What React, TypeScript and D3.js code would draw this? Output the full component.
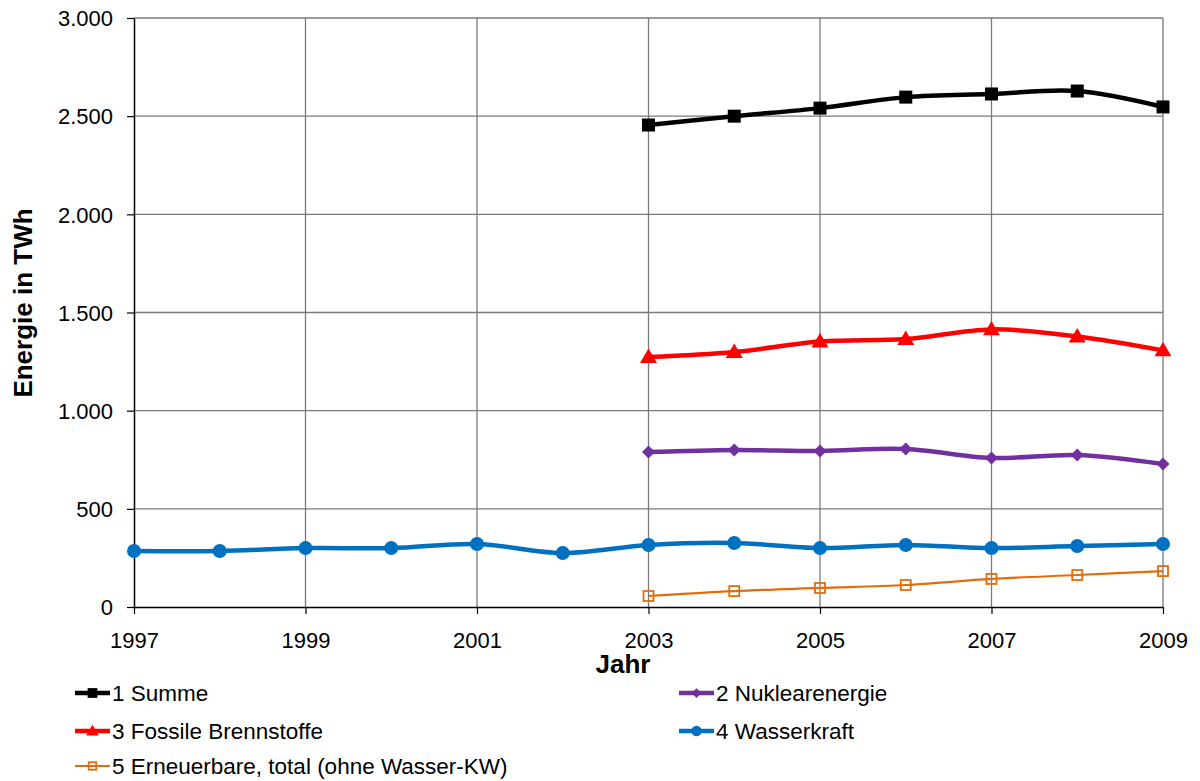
import React from 'react';
import * as d3 from 'd3';

// values (TWh)
const years = [1997, 1998, 1999, 2000, 2001, 2002, 2003, 2004, 2005, 2006, 2007, 2008, 2009];
const summe = [null, null, null, null, null, null, 2455, 2500, 2541, 2597, 2613, 2628, 2547];
const nuklear = [null, null, null, null, null, null, 789, 800, 795, 805, 759, 774, 728];
const fossil = [null, null, null, null, null, null, 1273, 1299, 1352, 1365, 1414, 1378, 1307];
const wasser = [285, 285, 300, 300, 321, 275, 316, 326, 300, 316, 300, 311, 321];
const erneuerbar = [null, null, null, null, null, null, 56, 81, 97, 112, 143, 163, 183];

const xTicks = [1997, 1999, 2001, 2003, 2005, 2007, 2009];
const yTicks = [0, 500, 1000, 1500, 2000, 2500, 3000];

type Marker = 'square' | 'diamond' | 'triangle' | 'circle' | 'openSquare';
interface Series {
  name: string;
  values: (number | null)[];
  color: string;
  width: number;
  marker: Marker;
}

const series: Series[] = [
  { name: '1 Summe', values: summe, color: '#000000', width: 4.5, marker: 'square' },
  { name: '2 Nuklearenergie', values: nuklear, color: '#7030A0', width: 4.5, marker: 'diamond' },
  { name: '3 Fossile Brennstoffe', values: fossil, color: '#FF0000', width: 4.5, marker: 'triangle' },
  { name: '4 Wasserkraft', values: wasser, color: '#0070C0', width: 4.5, marker: 'circle' },
  { name: '5 Erneuerbare, total (ohne Wasser-KW)', values: erneuerbar, color: '#E46C0A', width: 2.2, marker: 'openSquare' },
];

const W = 1200;
const H = 781;
const m = { left: 134, right: 1163, top: 18, bottom: 607 };
const font = '"Liberation Sans", Arial, sans-serif';

const drawMarker = (g: d3.Selection<SVGGElement, unknown, null, undefined>, kind: Marker, cx: number, cy: number, color: string, big = true) => {
  const k = big ? 1 : 0.75;
  if (kind === 'square') {
    const s = 13 * k;
    g.append('rect').attr('x', cx - s / 2).attr('y', cy - s / 2).attr('width', s).attr('height', s).attr('fill', color);
  } else if (kind === 'openSquare') {
    const s = 10 * k;
    g.append('rect').attr('x', cx - s / 2).attr('y', cy - s / 2).attr('width', s).attr('height', s)
      .attr('fill', 'none').attr('stroke', color).attr('stroke-width', 1.8);
  } else if (kind === 'diamond') {
    const r = 6.5 * k;
    g.append('path').attr('d', `M${cx},${cy - r}L${cx + r},${cy}L${cx},${cy + r}L${cx - r},${cy}Z`).attr('fill', color);
  } else if (kind === 'triangle') {
    const r = 8.5 * k;
    g.append('path').attr('d', `M${cx},${cy - r}L${cx + r},${cy + r * 0.7}L${cx - r},${cy + r * 0.7}Z`).attr('fill', color);
  } else {
    g.append('circle').attr('cx', cx).attr('cy', cy).attr('r', 7 * k).attr('fill', color);
  }
};

const App: React.FC = () => {
  const ref = React.useRef<SVGSVGElement>(null);

  React.useEffect(() => {
    const svg = d3.select(ref.current);
    svg.selectAll('*').remove();

    const x = d3.scaleLinear().domain([1997, 2009]).range([m.left, m.right]);
    const y = d3.scaleLinear().domain([0, 3000]).range([m.bottom, m.top]);

    // grid
    const grid = svg.append('g');
    yTicks.filter(t => t > 0).forEach(t => {
      grid.append('line').attr('x1', m.left).attr('x2', m.right).attr('y1', y(t)).attr('y2', y(t))
        .attr('stroke', '#7a7a7a').attr('stroke-width', 1.3);
    });
    xTicks.filter(t => t > 1997).forEach(t => {
      grid.append('line').attr('x1', x(t)).attr('x2', x(t)).attr('y1', m.top).attr('y2', m.bottom)
        .attr('stroke', '#7a7a7a').attr('stroke-width', 1.3);
    });

    // axes
    const yAxis = d3.axisLeft(y).tickValues(yTicks).tickSize(7).tickSizeOuter(0)
      .tickFormat(d => d3.format(',')(d as number).replace(/,/g, '.'));
    const yg = svg.append('g').attr('transform', `translate(${m.left},0)`).call(yAxis);
    const xAxis = d3.axisBottom(x).tickValues(xTicks).tickSize(7).tickSizeOuter(0).tickFormat(d3.format('d'));
    const xg = svg.append('g').attr('transform', `translate(0,${m.bottom})`).call(xAxis);
    [yg, xg].forEach(a => {
      a.attr('font-size', null).attr('font-family', null);
      a.select('.domain').attr('stroke', '#000').attr('stroke-width', 1.5);
      a.selectAll('.tick line').attr('stroke', '#000').attr('stroke-width', 1.2);
      a.selectAll('.tick text').attr('font-family', font).attr('font-size', 22).attr('fill', '#000');
    });
    yg.selectAll('.tick text').attr('x', -21).attr('dy', '0.35em');
    xg.selectAll('.tick text').attr('y', 25);

    // titles
    svg.append('text').attr('transform', `translate(32,303) rotate(-90)`)
      .attr('text-anchor', 'middle').attr('font-family', font).attr('font-size', 26).attr('font-weight', 'bold')
      .text('Energie in TWh');
    svg.append('text').attr('x', 623).attr('y', 673).attr('text-anchor', 'middle')
      .attr('font-family', font).attr('font-size', 26).attr('font-weight', 'bold').text('Jahr');

    // series
    const line = d3.line<[number, number | null]>()
      .defined(d => d[1] !== null)
      .x(d => x(d[0]))
      .y(d => y(d[1] as number))
      .curve(d3.curveCatmullRom.alpha(0));

    const order = [4, 3, 1, 2, 0];
    order.forEach(i => {
      const s = series[i];
      const pts = years.map((yr, j) => [yr, s.values[j]] as [number, number | null]);
      const g = svg.append('g');
      g.append('path').datum(pts).attr('d', line).attr('fill', 'none').attr('stroke', s.color)
        .attr('stroke-width', s.width).attr('stroke-linejoin', 'round');
      pts.filter(p => p[1] !== null).forEach(p => drawMarker(g, s.marker, x(p[0]), y(p[1] as number), s.color));
    });

    // legend
    const legendPos = [
      { x: 75, y: 693 }, { x: 679, y: 693 },
      { x: 75, y: 731 }, { x: 679, y: 731 },
      { x: 75, y: 766 },
    ];
    series.forEach((s, i) => {
      const p = legendPos[i];
      const g = svg.append('g');
      g.append('line').attr('x1', p.x).attr('x2', p.x + 35).attr('y1', p.y).attr('y2', p.y)
        .attr('stroke', s.color).attr('stroke-width', s.width);
      drawMarker(g, s.marker, p.x + 17.5, p.y, s.color, false);
      g.append('text').attr('x', p.x + 37).attr('y', p.y).attr('dy', '0.35em')
        .attr('font-family', font).attr('font-size', 22.5).text(s.name);
    });
  }, []);

  return <svg ref={ref} width={W} height={H} style={{ display: 'block', position: 'absolute', left: 0, top: 0 }} />;
};

export default App;
